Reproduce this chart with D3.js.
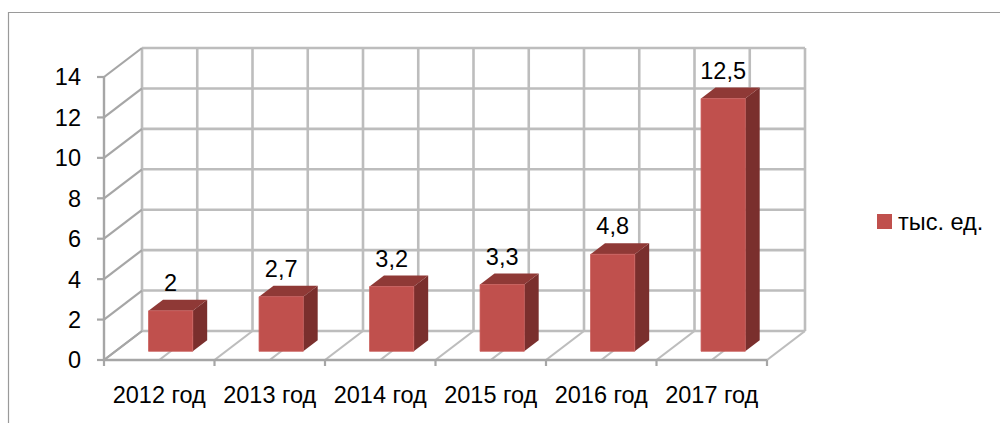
<!DOCTYPE html>
<html>
<head>
<meta charset="utf-8">
<script src="https://cdn.jsdelivr.net/npm/d3@7"></script>
<style>
  html, body { margin: 0; padding: 0; background: #fff; }
  svg { display: block; }
  text { font-family: "Liberation Sans", Arial, sans-serif; fill: #000; }
</style>
</head>
<body>
<svg id="chart" width="1000" height="423"></svg>
<script>
// ---- data ----
const categories = ["2012 год", "2013 год", "2014 год", "2015 год", "2016 год", "2017 год"];
const values = [2, 2.7, 3.2, 3.3, 4.8, 12.5];
const seriesName = "тыс. ед.";
const yTicks = [0, 2, 4, 6, 8, 10, 12, 14];

(function () {
// ---- layout ----
const W = 1000, H = 423;
const svg = d3.select("#chart");
const fontSize = 23.5;

const x = d3.scaleLinear().domain([0, categories.length]).range([104, 767]);
const y = d3.scaleLinear().domain([0, 14]).range([360, 77]);
const dX = d3.scaleLinear().domain([0, 1]).range([0, 38]);
const dY = d3.scaleLinear().domain([0, 1]).range([0, -29]);

function P(u, v, d) { return [x(u) + dX(d), y(v) + dY(d)]; }
const line = d3.line();

const gridColor = "#bdbdbd";
const axisColor = "#a6a6a6";

// outer frame
svg.append("path")
  .attr("d", `M8.5,${H} L8.5,12.5 L${W},12.5`)
  .attr("fill", "none").attr("stroke", "#9a9a9a").attr("stroke-width", 1.2);

const grid = svg.append("g").attr("fill", "none");

// back wall horizontal gridlines
yTicks.forEach(v => {
  grid.append("path").attr("d", line([P(0, v, 1), P(categories.length, v, 1)]))
    .attr("stroke", gridColor).attr("stroke-width", 2.6);
});
// back wall vertical gridlines (category boundaries and centers)
const half = d3.range(0, categories.length + 0.001, 0.5);
half.forEach(u => {
  grid.append("path").attr("d", line([P(u, 0, 1), P(u, 14, 1)]))
    .attr("stroke", gridColor).attr("stroke-width", 2.6);
});
// left wall diagonals
yTicks.forEach(v => {
  grid.append("path").attr("d", line([P(0, v, 0), P(0, v, 1)]))
    .attr("stroke", axisColor).attr("stroke-width", 2.2);
});
// floor diagonals
half.forEach(u => {
  grid.append("path").attr("d", line([P(u, 0, 0), P(u, 0, 1)]))
    .attr("stroke", u === 0 ? axisColor : gridColor).attr("stroke-width", 2.2);
});

// front axes
grid.append("path").attr("d", line([P(0, 0, 0), P(0, 14, 0)]))
  .attr("stroke", axisColor).attr("stroke-width", 2.4);
grid.append("path").attr("d", line([P(0, 0, 0), P(categories.length, 0, 0)]))
  .attr("stroke", axisColor).attr("stroke-width", 2.4);
// y ticks
yTicks.forEach(v => {
  grid.append("path").attr("d", line([[x(0) - 7, y(v)], [x(0), y(v)]]))
    .attr("stroke", axisColor).attr("stroke-width", 2.2);
});
// x ticks
d3.range(0, categories.length + 1).forEach(i => {
  grid.append("path").attr("d", line([[x(i), y(0)], [x(i), y(0) + 6]]))
    .attr("stroke", axisColor).attr("stroke-width", 2.2);
});

// y labels
svg.append("g").selectAll("text").data(yTicks).join("text")
  .attr("x", 81).attr("y", d => y(d)).attr("dy", "0.36em")
  .attr("text-anchor", "end").attr("font-size", fontSize)
  .text(d => d);

// x labels
svg.append("g").selectAll("text").data(categories).join("text")
  .attr("x", (d, i) => x(i + 0.5)).attr("y", 403)
  .attr("text-anchor", "middle").attr("font-size", fontSize)
  .text(d => d);

// bars
const bw = 0.2;          // half-width in category units
const d0 = 0.30, d1 = 0.68;
const frontColor = "#c0504d", topColor = "#8f3936", sideColor = "#7a2f2d";
const bars = svg.append("g");
values.forEach((v, i) => {
  const c = i + 0.5;
  const g = bars.append("g");
  g.append("path").attr("d", line([P(c + bw, 0, d0), P(c + bw, 0, d1), P(c + bw, v, d1), P(c + bw, v, d0)]) + "Z")
    .attr("fill", sideColor);
  g.append("path").attr("d", line([P(c - bw, v, d0), P(c + bw, v, d0), P(c + bw, v, d1), P(c - bw, v, d1)]) + "Z")
    .attr("fill", topColor);
  g.append("path").attr("d", line([P(c - bw, 0, d0), P(c + bw, 0, d0), P(c + bw, v, d0), P(c - bw, v, d0)]) + "Z")
    .attr("fill", frontColor).attr("stroke", "#c95d5a").attr("stroke-width", 0.8);
});

// value labels
const loc = d3.formatLocale({ decimal: ",", thousands: " ", grouping: [3], currency: ["", ""] });
const fmt = loc.format(".1~f");
svg.append("g").selectAll("text").data(values).join("text")
  .attr("x", (d, i) => P(i + 0.5, d, d0)[0])
  .attr("y", (d, i) => P(i + 0.5, d, d1)[1] - 9)
  .attr("text-anchor", "middle").attr("font-size", fontSize)
  .text(d => fmt(d));

// legend
const lg = svg.append("g").attr("transform", "translate(877,214)");
lg.append("rect").attr("width", 15).attr("height", 15).attr("fill", frontColor);
lg.append("text").attr("x", 21).attr("y", 7.5).attr("dy", "0.36em")
  .attr("font-size", fontSize).text(seriesName);
})();
</script>
</body>
</html>
